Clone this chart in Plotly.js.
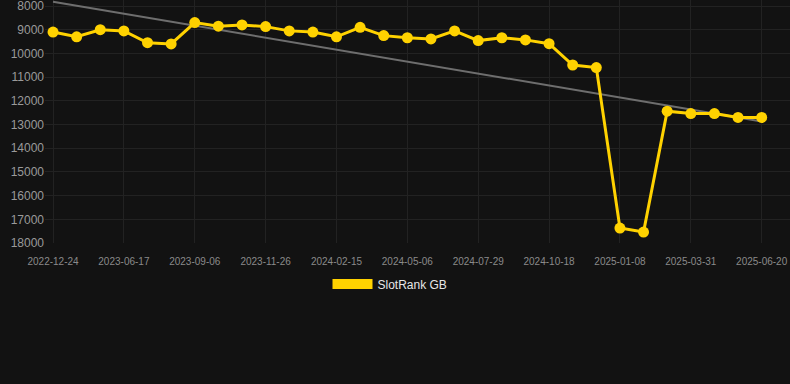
<!DOCTYPE html>
<html>
<head>
<meta charset="utf-8">
<script src="https://cdn.plot.ly/plotly-3.0.1.min.js"></script>
<style>
html,body{margin:0;padding:0;background:#121212;}
#chart{width:790px;height:384px;}
</style>
</head>
<body>
<div id="chart"></div>
<script>
const dates = [
  "2022-12-24","2023-02-10","2023-04-01","2023-06-17","2023-07-14","2023-08-10",
  "2023-09-06","2023-10-03","2023-10-30","2023-11-26","2023-12-23","2024-01-19",
  "2024-02-15","2024-03-13","2024-04-09","2024-05-06","2024-06-03","2024-07-01",
  "2024-07-29","2024-08-25","2024-09-21","2024-10-18","2024-11-14","2024-12-11",
  "2025-01-08","2025-02-04","2025-03-03","2025-03-31","2025-04-27","2025-05-24",
  "2025-06-20"
];
const ranks = [
  9100, 9300, 9000, 9050, 9550, 9600,
  8700, 8850, 8800, 8870, 9050, 9100,
  9300, 8900, 9250, 9340, 9390, 9050,
  9460, 9340, 9430, 9590, 10490, 10600,
  17370, 17540, 12440, 12540, 12540, 12700,
  12700
];
const tickLabels = ["2022-12-24","2023-06-17","2023-09-06","2023-11-26","2024-02-15",
  "2024-05-06","2024-07-29","2024-10-18","2025-01-08","2025-03-31","2025-06-20"];
const yTicks = [8000,9000,10000,11000,12000,13000,14000,15000,16000,17000,18000];
const trendX = ["2022-12-24","2025-06-20"];
const trendY = [7820, 12870];
const seriesName = "SlotRank GB";

const yellow = "#FFD200";
const traces = [
  {
    x: trendX, y: trendY, type: "scatter", mode: "lines",
    line: {color: "#6e6e6e", width: 2}, showlegend: false, hoverinfo: "skip"
  },
  {
    x: dates, y: ranks, type: "scatter", mode: "lines+markers",
    line: {color: yellow, width: 3},
    marker: {color: yellow, size: 11},
    showlegend: false, name: seriesName
  },
  {
    x: [dates[0]], y: [null], type: "scatter", mode: "lines",
    line: {color: yellow, width: 10}, name: seriesName, showlegend: true
  }
];

const layout = {
  width: 790, height: 384,
  paper_bgcolor: "#121212", plot_bgcolor: "#121212",
  margin: {l: 45, r: 0, t: 0, b: 141},
  font: {family: "Liberation Sans, Arial, sans-serif", color: "#999"},
  xaxis: {
    type: "category", categoryorder: "array", categoryarray: dates,
    range: [-0.34, 31.2],
    tickvals: tickLabels, ticktext: tickLabels,
    tickfont: {size: 10, color: "#8a8a8a"},
    showgrid: true, gridcolor: "#222", gridwidth: 1,
    zeroline: false, showline: false,
    ticks: "outside", ticklen: 9, tickcolor: "rgba(0,0,0,0)"
  },
  yaxis: {
    range: [18000, 7747],
    tickvals: yTicks,
    tickformat: "d",
    ticklabeloverflow: "allow",
    tickfont: {size: 12, color: "#9a9a9a"},
    showgrid: true, gridcolor: "#222", gridwidth: 1,
    zeroline: false, showline: false, ticks: "", ticklen: 0
  },
  showlegend: true,
  legend: {
    orientation: "h", xref: "container", yref: "container",
    x: 0.5 - 5/790, xanchor: "center", y: 1 - 284/384, yanchor: "middle",
    itemwidth: 40,
    font: {size: 12, color: "#e6e6e6"},
    bgcolor: "rgba(0,0,0,0)"
  }
};

Plotly.newPlot("chart", traces, layout, {displayModeBar: false, staticPlot: true});
</script>
</body>
</html>
